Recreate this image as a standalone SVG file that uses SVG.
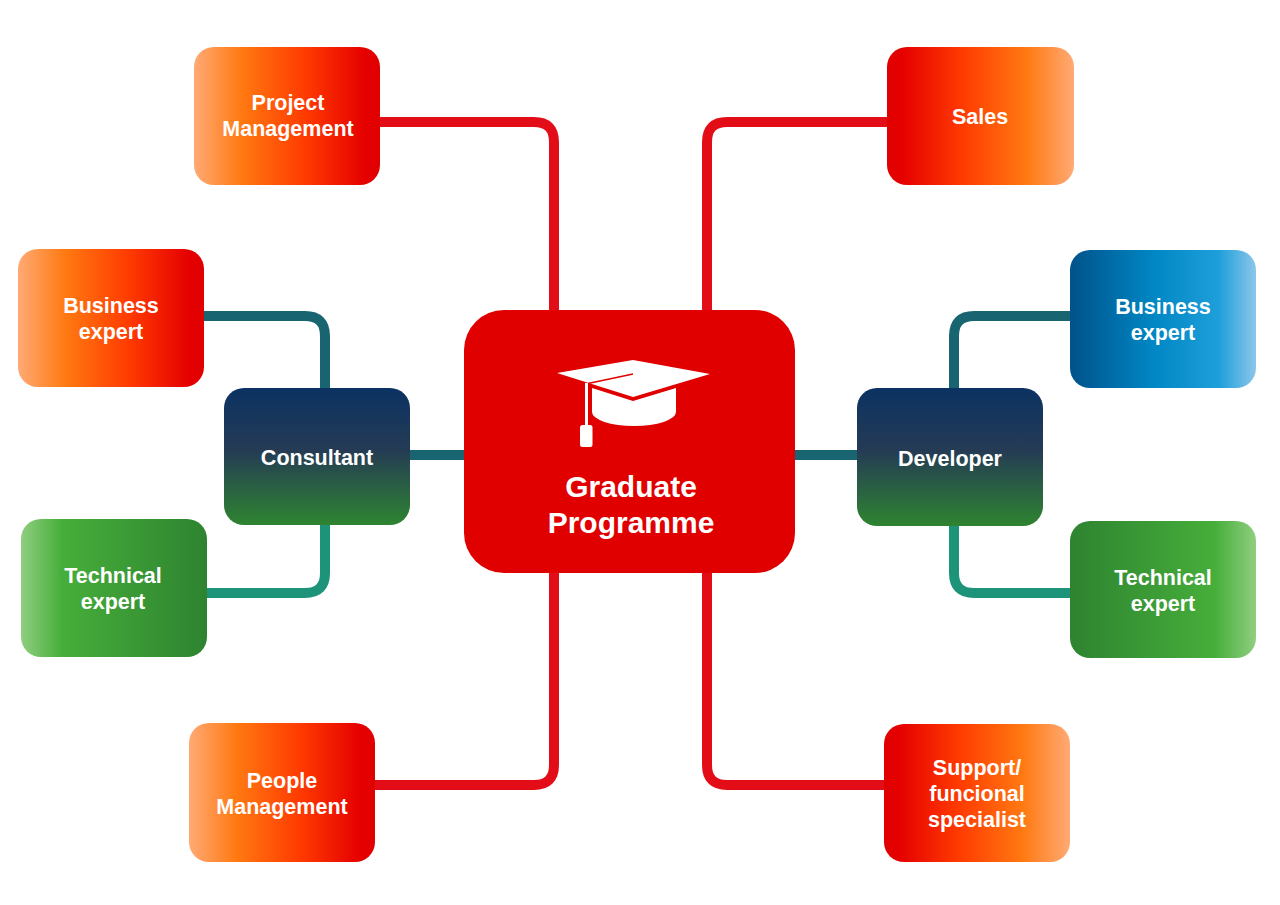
<svg xmlns="http://www.w3.org/2000/svg" width="1280" height="905" viewBox="0 0 1280 905">
<defs>
<linearGradient id="gOrangeL" x1="0" y1="0" x2="1" y2="0">
<stop offset="0" stop-color="#FFAA75"/>
<stop offset="0.25" stop-color="#FF7A12"/>
<stop offset="0.6" stop-color="#FF3A00"/>
<stop offset="0.92" stop-color="#E50000"/>
<stop offset="1" stop-color="#E00000"/>
</linearGradient>
<linearGradient id="gOrangeR" x1="1" y1="0" x2="0" y2="0">
<stop offset="0" stop-color="#FFAA75"/>
<stop offset="0.25" stop-color="#FF7A12"/>
<stop offset="0.6" stop-color="#FF3A00"/>
<stop offset="0.92" stop-color="#E50000"/>
<stop offset="1" stop-color="#E00000"/>
</linearGradient>
<linearGradient id="gRole" x1="0" y1="0" x2="0" y2="1">
<stop offset="0" stop-color="#0B3262"/>
<stop offset="0.45" stop-color="#253B55"/>
<stop offset="1" stop-color="#2E8430"/>
</linearGradient>
<linearGradient id="gGreenL" x1="0" y1="0" x2="1" y2="0">
<stop offset="0" stop-color="#90CE80"/>
<stop offset="0.22" stop-color="#46AE3A"/>
<stop offset="1" stop-color="#2E8330"/>
</linearGradient>
<linearGradient id="gGreenR" x1="1" y1="0" x2="0" y2="0">
<stop offset="0" stop-color="#90CE80"/>
<stop offset="0.22" stop-color="#46AE3A"/>
<stop offset="1" stop-color="#2E8330"/>
</linearGradient>
<linearGradient id="gBlue" x1="0" y1="0" x2="1" y2="0">
<stop offset="0" stop-color="#00528A"/>
<stop offset="0.45" stop-color="#0087C4"/>
<stop offset="0.8" stop-color="#1E9FDA"/>
<stop offset="1" stop-color="#8CC6EA"/>
</linearGradient>
</defs>
<style>
.lbl{font-family:"Liberation Sans",Arial,sans-serif;font-weight:bold;font-size:21.5px;fill:#ffffff;text-anchor:middle}
.big{font-family:"Liberation Sans",Arial,sans-serif;font-weight:bold;font-size:30px;fill:#ffffff;text-anchor:middle}
.red{fill:none;stroke:#E30D18;stroke-width:10}
.teal{fill:none;stroke:#186470;stroke-width:10}
.tealg{fill:none;stroke:#1D937A;stroke-width:10}
</style>
<rect width="1280" height="905" fill="#ffffff"/>
<g id="connectors">
<path class="red" d="M380,122 H534 Q554,122 554,142 V312"/>
<path class="red" d="M887,122 H727 Q707,122 707,142 V312"/>
<path class="red" d="M375,785 H534 Q554,785 554,765 V571"/>
<path class="red" d="M884,785 H727 Q707,785 707,765 V571"/>
<path class="teal" d="M204,316 H305 Q325,316 325,336 V390"/>
<path class="tealg" d="M207,593 H305 Q325,593 325,573 V523"/>
<path class="teal" d="M408,455 H466"/>
<path class="teal" d="M1070,316 H974 Q954,316 954,336 V390"/>
<path class="tealg" d="M1070,593 H974 Q954,593 954,573 V523"/>
<path class="teal" d="M793,455 H859"/>
</g>
<g id="center">
<rect x="464" y="310" width="331" height="263" rx="40" fill="#E00000"/>
<polygon points="557,373 633,360 710,374 633,397" fill="#ffffff"/>
<path d="M592,388 L633,401 L676,388 V412 A42,14 0 0 1 592,412 Z" fill="#ffffff"/>
<line x1="633" y1="374" x2="588" y2="383.5" stroke="#E00000" stroke-width="1.5"/>
<line x1="586.5" y1="383" x2="586.5" y2="428" stroke="#ffffff" stroke-width="3"/>
<rect x="580" y="425" width="12.5" height="22" rx="2.5" fill="#ffffff"/>
<text class="big" x="631" y="497">Graduate</text>
<text class="big" x="631" y="533">Programme</text>
</g>
<g id="project-management">
<rect x="194" y="47" width="186" height="138" rx="20" fill="url(#gOrangeL)"/>
<text class="lbl" x="288" y="110">Project</text>
<text class="lbl" x="288" y="136">Management</text>
</g>
<g id="sales">
<rect x="887" y="47" width="187" height="138" rx="20" fill="url(#gOrangeR)"/>
<text class="lbl" x="980" y="124">Sales</text>
</g>
<g id="business-expert-left">
<rect x="18" y="249" width="186" height="138" rx="20" fill="url(#gOrangeL)"/>
<text class="lbl" x="111" y="313">Business</text>
<text class="lbl" x="111" y="339">expert</text>
</g>
<g id="consultant">
<rect x="224" y="388" width="186" height="137" rx="20" fill="url(#gRole)"/>
<text class="lbl" x="317" y="465">Consultant</text>
</g>
<g id="technical-expert-left">
<rect x="21" y="519" width="186" height="138" rx="20" fill="url(#gGreenL)"/>
<text class="lbl" x="113" y="583">Technical</text>
<text class="lbl" x="113" y="609">expert</text>
</g>
<g id="people-management">
<rect x="189" y="723" width="186" height="139" rx="20" fill="url(#gOrangeL)"/>
<text class="lbl" x="282" y="788">People</text>
<text class="lbl" x="282" y="814">Management</text>
</g>
<g id="developer">
<rect x="857" y="388" width="186" height="138" rx="20" fill="url(#gRole)"/>
<text class="lbl" x="950" y="466">Developer</text>
</g>
<g id="business-expert-right">
<rect x="1070" y="250" width="186" height="138" rx="20" fill="url(#gBlue)"/>
<text class="lbl" x="1163" y="314">Business</text>
<text class="lbl" x="1163" y="340">expert</text>
</g>
<g id="technical-expert-right">
<rect x="1070" y="521" width="186" height="137" rx="20" fill="url(#gGreenR)"/>
<text class="lbl" x="1163" y="585">Technical</text>
<text class="lbl" x="1163" y="611">expert</text>
</g>
<g id="support">
<rect x="884" y="724" width="186" height="138" rx="20" fill="url(#gOrangeR)"/>
<text class="lbl" x="977" y="775">Support/</text>
<text class="lbl" x="977" y="801">funcional</text>
<text class="lbl" x="977" y="827">specialist</text>
</g>
</svg>
